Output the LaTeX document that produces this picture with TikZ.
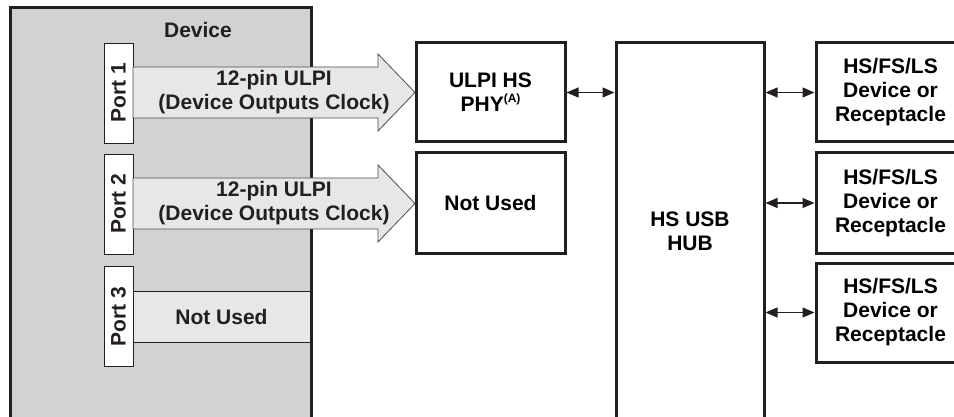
\documentclass[tikz,border=0pt]{standalone}
\usepackage{fontspec}
\setmainfont{Liberation Sans}
\usepackage{xcolor}
\usetikzlibrary{arrows.meta,positioning,calc}

\definecolor{devgray}{RGB}{209,210,212}
\definecolor{busgray}{RGB}{230,231,232}
\definecolor{inkblack}{RGB}{35,31,32}

\begin{document}
\begin{tikzpicture}[
    x=1pt, y=-1pt,
    font=\fontsize{21}{24}\selectfont\bfseries,
    block/.style={rectangle, draw=inkblack, line width=3pt, fill=white, inner sep=0pt, align=center},
    portbox/.style={rectangle, draw=inkblack, line width=0.9pt, fill=white, minimum width=29pt, minimum height=100pt, inner sep=0pt},
    bus/.style={draw=inkblack!80, line width=0.8pt, fill=busgray},
    lbl/.style={inner sep=0pt, align=center, text=inkblack},
    link/.style={{Triangle[length=12pt,width=10pt]}-{Triangle[length=12pt,width=10pt]}, line width=1.1pt, draw=inkblack}
]
    \clip (0,0) rectangle (954,417);

    % Device and its ports
    \node[block, fill=devgray, minimum width=301pt, minimum height=420pt] (device) at (160.5,218) {};
    \node[lbl] (devname) at (198,30) {Device};
    \node[portbox] (port1) at (118.5,93) {};
    \node[portbox] (port2) at (118.5,204) {};
    \node[portbox] (port3) at (118.5,316.5) {};
    \node[lbl, rotate=90] at (port1) {Port 1};
    \node[lbl, rotate=90] at (port2) {Port 2};
    \node[lbl, rotate=90] at (port3) {Port 3};

    % ULPI buses
    \draw[bus] (133,67) -- (378,67) -- (378,54) -- (415,92.5) -- (378,131) -- (378,118) -- (133,118) -- cycle;
    \draw[bus] (133,178) -- (378,178) -- (378,165) -- (415,203.5) -- (378,242) -- (378,229) -- (133,229) -- cycle;
    \node[lbl] (ulpi1) at (274,92) {12-pin ULPI\\(Device Outputs Clock)};
    \node[lbl] (ulpi2) at (274,203) {12-pin ULPI\\(Device Outputs Clock)};
    \node[rectangle, draw=inkblack, line width=0.9pt, fill=busgray, minimum width=177pt, minimum height=51pt, inner sep=0pt, text=inkblack] (unused3) at (221.5,316.5) {Not Used};

    % PHY side
    \node[block, minimum width=149pt, minimum height=99pt] (phy) at (490.5,92.5) {ULPI HS\\PHY\raisebox{9pt}{\fontsize{12}{12}\selectfont(A)}};
    \node[block, minimum width=149pt, minimum height=100pt] (unused2) at (490.5,203) {Not Used};
    \node[block, minimum width=148pt, minimum height=377pt] (hub) at (690,231.5) {HS USB\\HUB};

    % Downstream devices
    \node[block, minimum width=149pt, minimum height=99pt] (dev1) at (890.5,92.5) {HS/FS/LS\\Device or\\Receptacle};
    \node[block, minimum width=149pt, minimum height=100pt] (dev2) at (890.5,203) {HS/FS/LS\\Device or\\Receptacle};
    \node[block, minimum width=149pt, minimum height=99pt] (dev3) at (890.5,312.5) {HS/FS/LS\\Device or\\Receptacle};

    % Arrows
    \draw[link] (phy.east) -- (phy.east -| hub.west);
    \draw[link] (dev1.west -| hub.east) -- (dev1.west);
    \draw[link] (dev2.west -| hub.east) -- (dev2.west);
    \draw[link] (dev3.west -| hub.east) -- (dev3.west);
\end{tikzpicture}
\end{document}
